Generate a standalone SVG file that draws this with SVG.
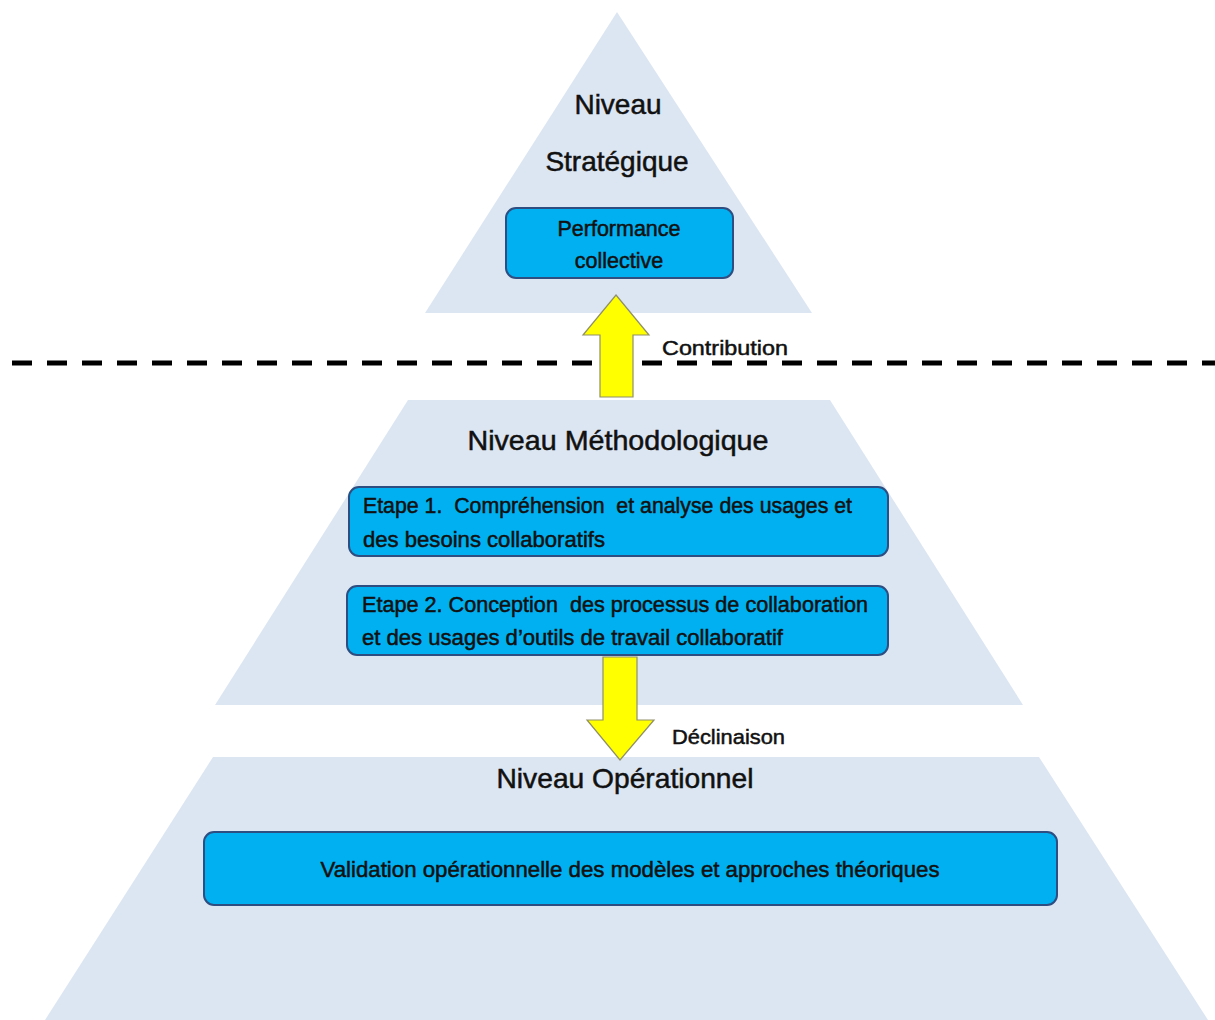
<svg xmlns="http://www.w3.org/2000/svg" width="1215" height="1020" viewBox="0 0 1215 1020">
  <style>
    .tier { fill: #dce6f2; }
    .box { fill: #00b0f0; stroke: #2e4d80; stroke-width: 2; }
    .t { font-family: "Liberation Sans", Arial, sans-serif; fill: #111; stroke: #111; stroke-width: 0.5; white-space: pre; }
    .title { font-size: 28px; text-anchor: middle; }
    .boxt { font-size: 21.5px; }
    .lbl { font-size: 21px; }
    .arrow { fill: #ffff00; stroke: #8f8f6a; stroke-width: 1.2; }
  </style>
  <rect x="0" y="0" width="1215" height="1020" fill="#ffffff"/>

  <g id="tier-strategique">
    <polygon class="tier" points="617,12 812,313 425,313"/>
    <text class="t title" x="618" y="114">Niveau</text>
    <text class="t title" x="617" y="171">Stratégique</text>
  </g>

  <g id="tier-methodologique">
    <polygon class="tier" points="408,400 830,400 1023,705 215,705"/>
    <text class="t title" x="618" y="450" textLength="301" lengthAdjust="spacingAndGlyphs">Niveau Méthodologique</text>
  </g>

  <g id="tier-operationnel">
    <polygon class="tier" points="213,757 1039,757 1208,1020 45,1020"/>
    <text class="t title" x="625" y="788" textLength="257" lengthAdjust="spacingAndGlyphs">Niveau Opérationnel</text>
  </g>

  <g id="connectors">
    <line x1="12" y1="363" x2="1215" y2="363" stroke="#000" stroke-width="5" stroke-dasharray="20 15"/>
    <g id="arrow-contribution">
      <polygon class="arrow" points="616,295 649,335 633,335 633,397 600,397 600,335 583,335"/>
      <text class="t lbl" x="662" y="355" textLength="126" lengthAdjust="spacingAndGlyphs">Contribution</text>
    </g>
    <g id="arrow-declinaison">
      <polygon class="arrow" points="603,657 637,657 637,720 654,720 620,760 587,720 603,720"/>
      <text class="t lbl" x="672" y="744" textLength="113" lengthAdjust="spacingAndGlyphs">Déclinaison</text>
    </g>
  </g>

  <g id="node-performance">
    <rect class="box" x="506" y="208" width="227" height="70" rx="10"/>
    <text class="t boxt" x="619" y="236" text-anchor="middle">Performance</text>
    <text class="t boxt" x="619" y="268" text-anchor="middle">collective</text>
  </g>

  <g id="node-etape1">
    <rect class="box" x="349" y="487" width="539" height="69" rx="10"/>
    <text class="t boxt" x="363" y="513" textLength="489" lengthAdjust="spacingAndGlyphs">Etape 1.  Compréhension  et analyse des usages et</text>
    <text class="t boxt" x="363" y="547" textLength="242" lengthAdjust="spacingAndGlyphs">des besoins collaboratifs</text>
  </g>

  <g id="node-etape2">
    <rect class="box" x="347" y="586" width="541" height="69" rx="10"/>
    <text class="t boxt" x="362" y="612" textLength="506" lengthAdjust="spacingAndGlyphs">Etape 2. Conception  des processus de collaboration</text>
    <text class="t boxt" x="362" y="645" textLength="421" lengthAdjust="spacingAndGlyphs">et des usages d’outils de travail collaboratif</text>
  </g>

  <g id="node-validation">
    <rect class="box" x="204" y="832" width="853" height="73" rx="10"/>
    <text class="t boxt" x="630" y="877" text-anchor="middle" textLength="619" lengthAdjust="spacingAndGlyphs">Validation opérationnelle des modèles et approches théoriques</text>
  </g>
</svg>
